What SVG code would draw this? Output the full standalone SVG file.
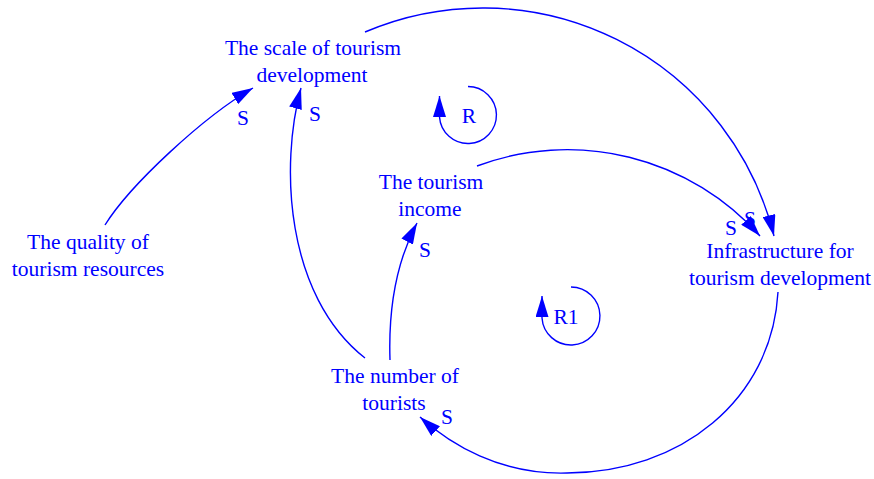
<svg xmlns="http://www.w3.org/2000/svg" width="874" height="479" viewBox="0 0 874 479">
<style>
text{font-family:"Liberation Serif","Times New Roman","DejaVu Serif",serif;font-size:21.5px;fill:#0000ff;text-anchor:middle}
.c{fill:none;stroke:#0000ff;stroke-width:1.4}
</style>
<defs>
<marker id="ah" viewBox="0 0 21 13" refX="21" refY="6.5" markerWidth="21" markerHeight="13" markerUnits="userSpaceOnUse" orient="auto">
<path d="M0,0 L21,6.5 L0,13 Z" fill="#0000ff"/>
</marker>
</defs>
<rect width="874" height="479" fill="#ffffff"/>
<g id="labels-under">
<text x="750" y="226">S</text>
</g>
<g id="connectors">
<path class="c" marker-end="url(#ah)" d="M105,225 C130,185 203,117 253,88"/>
<path class="c" marker-end="url(#ah)" d="M365,358 C285,295 280,165 301,88"/>
<path class="c" marker-end="url(#ah)" d="M390,360 C388,300 400,255 417,223"/>
<path class="c" marker-end="url(#ah)" d="M365,32 A300,300 0 0 1 774,236"/>
<path class="c" marker-end="url(#ah)" d="M477,166 A258,258 0 0 1 760,236"/>
<path class="c" marker-end="url(#ah)" d="M778,292 C772,400 680,473 567,473 C500,475 450,444 420,417"/>
<path class="c" marker-end="url(#ah)" d="M468,86.5 A28.5,28.5 0 1 1 439.5,117 L439.5,96"/>
<path class="c" marker-end="url(#ah)" d="M571,287 A29,29 0 1 1 542,318 L542,296"/>
</g>
<g id="link-labels">
<text x="243" y="125">S</text>
<text x="315" y="121">S</text>
<text x="425" y="257">S</text>
<text x="731" y="235">S</text>
<text x="447" y="424">S</text>
</g>
<g id="scale"><text x="313" y="55">The scale of tourism</text><text x="312" y="82">development</text></g>
<g id="quality"><text x="88" y="249">The quality of</text><text x="88" y="276">tourism resources</text></g>
<g id="income"><text x="431" y="189">The tourism</text><text x="430" y="216">income</text></g>
<g id="infra"><text x="780" y="258">Infrastructure for</text><text x="780" y="285">tourism development</text></g>
<g id="number"><text x="395" y="383">The number of</text><text x="394" y="410">tourists</text></g>
<g id="loop-R"><text x="469" y="123">R</text></g>
<g id="loop-R1"><text x="566" y="324">R1</text></g>
</svg>
